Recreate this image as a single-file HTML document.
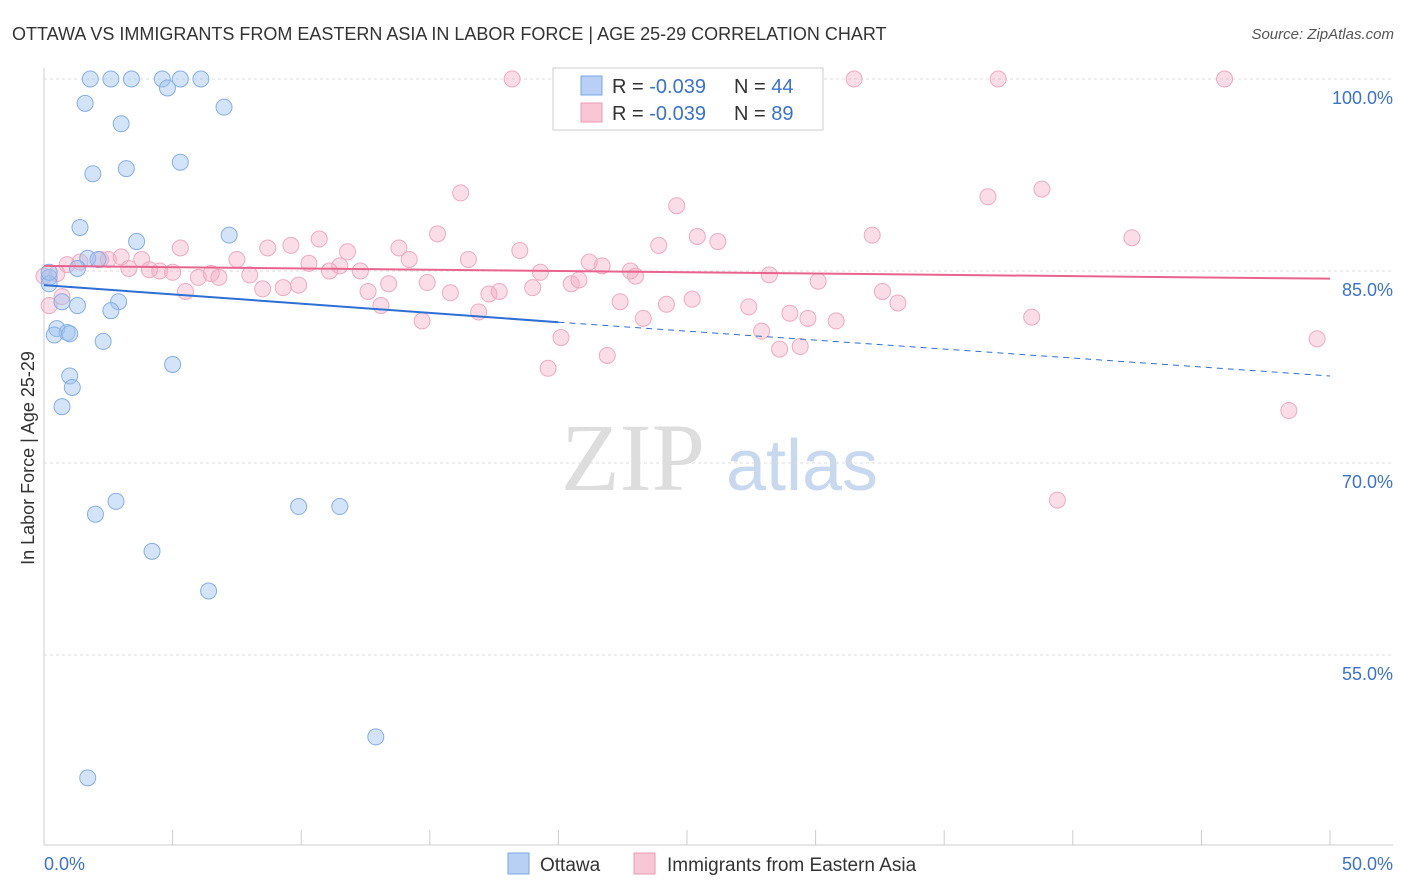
<!DOCTYPE html>
<html><head><meta charset="utf-8">
<style>
body{margin:0;background:#fff;font-family:"Liberation Sans",sans-serif;}
#wrap{position:relative;width:1406px;height:892px;overflow:hidden;}
</style></head>
<body>
<div id="wrap">
<svg id="svg" width="1406" height="892" xmlns="http://www.w3.org/2000/svg">
<text x="12" y="40" font-size="18" fill="#333">OTTAWA VS IMMIGRANTS FROM EASTERN ASIA IN LABOR FORCE | AGE 25-29 CORRELATION CHART</text>
<text x="1394" y="39" font-size="15" fill="#555" font-style="italic" text-anchor="end">Source: ZipAtlas.com</text>
<text x="34" y="458" font-size="18" fill="#333" text-anchor="middle" transform="rotate(-90 34 458)">In Labor Force | Age 25-29</text>
<g><text x="633" y="490" font-size="96" fill="#ddd" font-family="Liberation Serif,serif" text-anchor="middle">ZIP</text><text x="802" y="490" font-size="72" fill="#c8d8ee" text-anchor="middle">atlas</text></g>
<g id="grid"></g><g id="axes"></g><g id="pts"></g><g id="trend"></g>
<g>
<rect x="553" y="68" width="270" height="62" fill="#fff" stroke="#ccc"/>
<rect x="581" y="76" width="21" height="19" fill="#b8d0f3" stroke="#7aa6e6"/>
<text x="612" y="93" font-size="20" fill="#333">R = <tspan fill="#3a72d0">-0.039</tspan></text>
<text x="734" y="93" font-size="20" fill="#333">N = <tspan fill="#3a72d0">44</tspan></text>
<rect x="581" y="103" width="21" height="19" fill="#f9c6d6" stroke="#ec9ab3"/>
<text x="612" y="120" font-size="20" fill="#333">R = <tspan fill="#3a72d0">-0.039</tspan></text>
<text x="734" y="120" font-size="20" fill="#333">N = <tspan fill="#3a72d0">89</tspan></text>
</g>
<g>
<rect x="508" y="853" width="21" height="21" fill="#b8d0f3" stroke="#7aa6e6"/>
<text x="540" y="871" font-size="19" fill="#333">Ottawa</text>
<rect x="634" y="853" width="21" height="21" fill="#f9c6d6" stroke="#ec9ab3"/>
<text x="667" y="871" font-size="19" fill="#333">Immigrants from Eastern Asia</text>
</g>
</svg>
</div>
<script>
const blueX=[1.8,2.6,3.4,4.6,5.3,6.1,4.8,1.6,7,3,5.3,3.2,1.9,1.4,7.2,3.6,1.7,2.1,1.3,0.2,0.2,0.7,1.3,2.9,2.6,0.5,0.9,0.4,1,2.3,5,1,1.1,0.7,2.8,2,9.9,11.5,4.2,6.4,12.9,1.7,20.1,0.2];
const blueY=[100,100,100,100,100,100,99.3,98.1,97.8,96.5,93.5,93,92.6,88.4,87.8,87.3,86,85.9,85.2,84.5,84,82.6,82.3,82.6,81.9,80.5,80.2,80,80.1,79.5,77.7,76.8,75.9,74.4,67,66,66.6,66.6,63.1,60,48.6,45.4,100,84.9];
const pinkX=[18.2,31.5,37.1,45.9,16.2,24.6,36.7,38.8,15.3,32.2,42.3,25.4,26.2,5.3,8.7,9.6,10.7,11.8,13.8,14.2,16.5,18.5,23.9,21.2,21.7,19.3,22.8,23,28.2,30.1,0.9,1.4,2.2,3,3.8,2.5,3.3,4.1,4.5,5,6,6.5,6.8,7.5,8,8.5,9.3,9.9,10.3,11.1,11.5,12.3,12.6,13.4,13.1,14.9,15.8,17.3,17.7,16.9,14.7,19,20.5,20.8,22.4,23.3,24.2,25.2,27.4,27.9,29,29.7,28.6,29.4,30.8,32.6,33.2,20.1,19.6,21.9,38.4,49.5,48.4,39.4,0,0.2,0.5,5.5,0.7];
const pinkY=[100,100,100,100,91.1,90.1,90.8,91.4,87.9,87.8,87.6,87.7,87.3,86.8,86.8,87,87.5,86.5,86.8,85.9,85.9,86.6,87,85.7,85.4,84.9,85,84.6,84.7,84.2,85.5,85.7,85.9,86.1,85.9,85.9,85.2,85.1,85,84.9,84.5,84.8,84.5,85.9,84.7,83.6,83.7,83.9,85.6,85,85.4,85,83.4,84,82.3,84.1,83.3,83.2,83.4,81.8,81.1,83.7,84,84.3,82.6,81.3,82.4,82.8,82.2,80.3,81.7,81.3,78.9,79.1,81.1,83.4,82.5,79.8,77.4,78.4,81.4,79.7,74.1,67.1,84.6,82.3,84.8,83.4,83];
const yTicks=[100,85,70,55];
const yTickLabels=["100.0%","85.0%","70.0%","55.0%"];
const xTicks=[0,5,10,15,20,25,30,35,40,45,50];
const blueTrend=[[0,83.9],[20,81.0],[50,76.8]];
const pinkTrend=[[0,85.4],[50,84.4]];

const NS="http://www.w3.org/2000/svg";
function xs(v){return 44+v/50*1286;}
function ys(v){return 79+(100-v)*12.8;}
function mk(tag,attrs,parent){const e=document.createElementNS(NS,tag);for(const k in attrs)e.setAttribute(k,attrs[k]);parent.appendChild(e);return e;}
const grid=document.getElementById('grid'),axes=document.getElementById('axes'),pts=document.getElementById('pts'),trend=document.getElementById('trend');
yTicks.forEach((t,i)=>{
  const l=mk('line',{x1:44,x2:1393,y1:ys(t),y2:ys(t),stroke:'#ddd','stroke-dasharray':'3,3'},grid);
  
  
  const tx=mk('text',{x:1393,y:ys(t)+25,'font-size':18,fill:'#3a72d0','text-anchor':'end'},axes);
  tx.textContent=yTickLabels[i];
  
  
});
const ax=mk('line',{x1:44,x2:44,y1:68,y2:845,stroke:'#ccc'},axes);


const bx=mk('line',{x1:44,x2:1393,y1:845,y2:845,stroke:'#ccc'},axes);


xTicks.forEach(t=>{
  const l=mk('line',{x1:xs(t),x2:xs(t),y1:830,y2:845,stroke:'#ccc'},axes);
  
  
});
const xl0=mk('text',{x:44,y:870,'font-size':18,fill:'#3a72d0'},axes);
xl0.textContent='0.0%';


const xl1=mk('text',{x:1393,y:870,'font-size':18,fill:'#3a72d0','text-anchor':'end'},axes);
xl1.textContent='50.0%';



pinkX.forEach((x,i)=>{
  const c=mk('circle',{cx:xs(x),cy:ys(pinkY[i]),r:8,fill:'rgba(245,170,195,0.4)',stroke:'#eeaac0','stroke-width':1},pts);
  
  
});
blueX.forEach((x,i)=>{
  const c=mk('circle',{cx:xs(x),cy:ys(blueY[i]),r:8,fill:'rgba(160,195,240,0.45)',stroke:'#86aee6','stroke-width':1},pts);
  
  
});
const b1=mk('line',{x1:xs(blueTrend[0][0]),y1:ys(blueTrend[0][1]),x2:xs(blueTrend[1][0]),y2:ys(blueTrend[1][1]),stroke:'#2e6fd4','stroke-width':2},trend);


const b2=mk('line',{x1:xs(blueTrend[1][0]),y1:ys(blueTrend[1][1]),x2:xs(blueTrend[2][0]),y2:ys(blueTrend[2][1]),stroke:'#2e6fd4','stroke-width':1,'stroke-dasharray':'6,5'},trend);


const p1=mk('line',{x1:xs(pinkTrend[0][0]),y1:ys(pinkTrend[0][1]),x2:xs(pinkTrend[1][0]),y2:ys(pinkTrend[1][1]),stroke:'#e8648e','stroke-width':2},trend);


</script>
</body></html>
